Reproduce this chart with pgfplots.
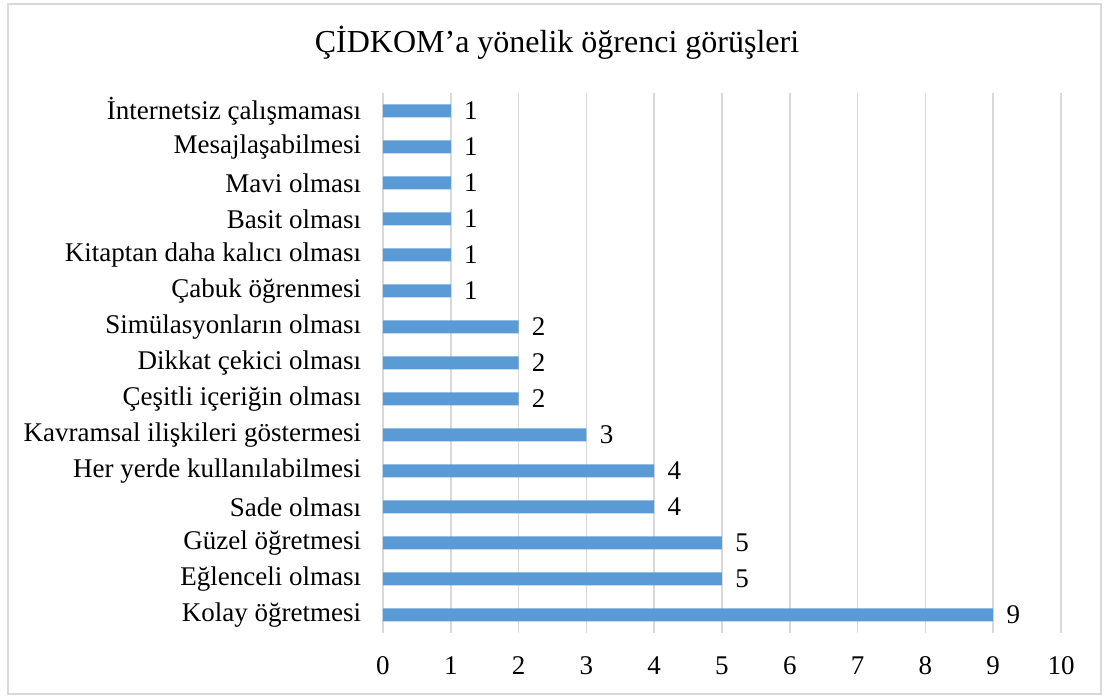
\documentclass[border=0pt]{standalone}
\usepackage{fontspec}
\setmainfont{Liberation Serif}
\usepackage{pgfplots}
\pgfplotsset{compat=1.18}

\definecolor{barblue}{HTML}{5B9BD5}
\definecolor{gridgray}{HTML}{D9D9D9}

\begin{document}
\begin{tikzpicture}
\useasboundingbox (0pt,0pt) rectangle (552.5pt,348pt);
\draw[gridgray, line width=0.75pt] (4pt,1pt) rectangle (550.5pt,346pt);
\node[anchor=base, inner sep=0pt, font=\fontsize{16}{19}\selectfont] at (278.5pt,321.5pt)
  {ÇİDKOM’a yönelik öğrenci görüşleri};
\begin{axis}[
    at={(191.5pt,31.5pt)}, anchor=south west,
    scale only axis,
    width=339pt, height=270pt,
    xbar,
    bar width=6.5pt,
    xmin=0, xmax=10,
    ymin=-0.5, ymax=14.5,
    xtick={0,1,...,10},
    ytick={0,1,...,14},
    yticklabels={Kolay öğretmesi, Eğlenceli olması, Güzel öğretmesi, Sade olması,
      Her yerde kullanılabilmesi, Kavramsal ilişkileri göstermesi,
      Çeşitli içeriğin olması, Dikkat çekici olması, Simülasyonların olması,
      Çabuk öğrenmesi, Kitaptan daha kalıcı olması, Basit olması, Mavi olması,
      Mesajlaşabilmesi, İnternetsiz çalışmaması},
    axis line style={draw=none},
    tick style={draw=none},
    xmajorgrids,
    major grid style={gridgray, line width=0.75pt},
    /pgf/number format/assume math mode=true,
    tick label style={font=\fontsize{13.5}{16}\selectfont, inner sep=0pt},
    yticklabel style={xshift=-6.5pt},
    xticklabel style={yshift=-11.5pt},
    nodes near coords,
    every node near coord/.append style={anchor=west, inner sep=0pt, xshift=6.5pt,
      font=\fontsize{13.5}{16}\selectfont},
]
\addplot[fill=barblue, draw=none] coordinates {
  (9,0) (5,1) (5,2) (4,3) (4,4) (3,5) (2,6) (2,7) (2,8)
  (1,9) (1,10) (1,11) (1,12) (1,13) (1,14)
};
\end{axis}
\end{tikzpicture}
\end{document}
